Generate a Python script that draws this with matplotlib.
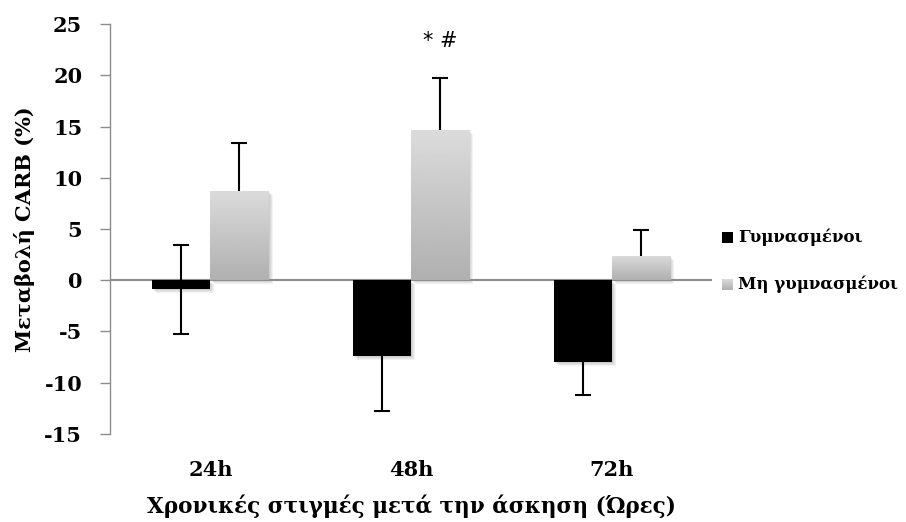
import numpy as np
import matplotlib
matplotlib.use('Agg')
import matplotlib.pyplot as plt
import matplotlib.transforms as mtransforms
from matplotlib.patches import Rectangle

# values
categories = ['24h', '48h', '72h']
trained = [-0.9, -7.4, -8.0]
trained_err = [4.3, 5.4, 3.2]
untrained = [8.7, 14.7, 2.4]
untrained_err = [4.7, 5.0, 2.5]
series_names = ['Γυμνασμένοι', 'Μη γυμνασμένοι']

plt.rcParams['font.family'] = ['DejaVu Serif']
plt.rcParams['axes.unicode_minus'] = False

fig = plt.figure(figsize=(9.06, 5.22), dpi=100)
ax = fig.add_axes([0.1214, 0.1686, 0.786 - 0.1214, 0.954 - 0.1686])

x = np.arange(len(categories))
w = 0.29

def shadow(ax, rect):
    # soft drop shadow behind a bar
    for i in range(4):
        tr = mtransforms.offset_copy(ax.transData, fig=fig, x=1 + i, y=-(1 + i), units='dots')
        s = Rectangle(rect.get_xy(), rect.get_width(), rect.get_height(),
                      facecolor='black', edgecolor='none', alpha=0.05, transform=tr, zorder=1)
        ax.add_patch(s)

grad = np.linspace(0.86, 0.69, 100).reshape(-1, 1)

black_bars = ax.bar(x - w / 2, trained, w, color='black', zorder=3)
grey_bars = ax.bar(x + w / 2, untrained, w, color='none', edgecolor='none', zorder=3)

for b in black_bars:
    shadow(ax, b)
for b in grey_bars:
    shadow(ax, b)
    bx, by = b.get_xy()
    im = ax.imshow(grad, cmap='gray', vmin=0, vmax=1, aspect='auto',
                   extent=[bx, bx + b.get_width(), by, by + b.get_height()],
                   origin='upper', zorder=3)
    im.set_clip_path(b)

# error bars: both ways on black bars, upward only on grey bars
ax.errorbar(x - w / 2, trained, yerr=trained_err, fmt='none', ecolor='black',
            elinewidth=1.5, capsize=6, capthick=1.5, zorder=4)
up_tops = np.array(untrained) + np.array(untrained_err)
ax.vlines(x + w / 2, untrained, up_tops, color='black', lw=1.5, zorder=4)
ax.plot(x + w / 2, up_tops, ls='none', marker='_', markersize=12, mew=1.5, color='black', zorder=4)

ax.axhline(0, color='#8c8c8c', lw=1.5, zorder=2)

ax.set_xlim(-0.5, 2.5)
ax.set_ylim(-15, 25)
ax.set_yticks(range(-15, 26, 5))
ax.set_xticks(x)
ax.set_xticklabels(categories, fontsize=15, fontweight='bold')
ax.tick_params(axis='x', length=0, pad=19)
ax.tick_params(axis='y', direction='out', length=7, width=1, color='#8c8c8c', labelsize=15, pad=13)
for lab in ax.get_yticklabels():
    lab.set_fontweight('bold')
for sp in ['top', 'right', 'bottom']:
    ax.spines[sp].set_visible(False)
ax.spines['left'].set_color('#8c8c8c')
ax.spines['left'].set_linewidth(1)

ax.set_ylabel('Μεταβολή CARB (%)', fontsize=15, fontweight='bold', labelpad=7)
ax.set_xlabel('Χρονικές στιγμές μετά την άσκηση (Ώρες)', fontsize=15.5, fontweight='bold', labelpad=10)

ax.text(1 + w / 2, 23.3, '* #', ha='center', va='center', fontsize=15, family='DejaVu Sans')

# legend drawn by hand
fig.patches.append(Rectangle((722 / 906, 1 - 243 / 522), 11 / 906, 11 / 522,
                             transform=fig.transFigure, facecolor='black', edgecolor='none'))
lax = fig.add_axes([722 / 906, 1 - 290 / 522, 11 / 906, 11 / 522])
lax.imshow(grad, cmap='gray', vmin=0, vmax=1, aspect='auto')
lax.axis('off')
fig.text(738 / 906, 1 - 237 / 522, series_names[0], fontsize=12, fontweight='bold', va='center')
fig.text(738 / 906, 1 - 284 / 522, series_names[1], fontsize=12, fontweight='bold', va='center')

fig.savefig('out.png', dpi=100)
